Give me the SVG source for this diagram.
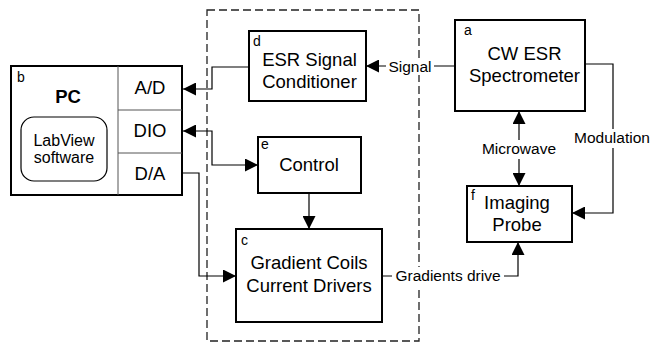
<svg xmlns="http://www.w3.org/2000/svg" width="652" height="343" viewBox="0 0 652 343">
<defs>
<marker id="ah" markerUnits="userSpaceOnUse" markerWidth="14" markerHeight="13" refX="13" refY="6.5" orient="auto-start-reverse" viewBox="0 0 14 13">
<path d="M0,0 L13,6.5 L0,13 z" fill="#000"/>
</marker>
<style>
text{font-family:"Liberation Sans",Arial,sans-serif;fill:#000}
.big{font-size:18.5px;text-anchor:middle}
.lbl{font-size:15.5px;text-anchor:middle}
.tag{font-size:14px}
.box{fill:#fff;stroke:#000;stroke-width:2}
.thin{fill:none;stroke:#555;stroke-width:1}
.con{fill:none;stroke:#000;stroke-width:1.2}
.bg{fill:#fff}
</style>
</defs>
<rect x="207" y="10" width="212" height="331" fill="none" stroke="#222" stroke-width="1.3" stroke-dasharray="8,4"/>
<g id="connectors">
<path class="con" d="M249,67 H212 V89 H183" marker-end="url(#ah)"/>
<path class="con" d="M183,131 H212 V165 H258" marker-start="url(#ah)" marker-end="url(#ah)"/>
<path class="con" d="M182,173 H199 V276 H236" marker-end="url(#ah)"/>
<path class="con" d="M309,193 V229" marker-end="url(#ah)"/>
<path class="con" d="M455,66 H366" marker-end="url(#ah)"/>
<path class="con" d="M519,111 V186" marker-start="url(#ah)" marker-end="url(#ah)"/>
<path class="con" d="M585,64 H613 V213 H572" marker-end="url(#ah)"/>
<path class="con" d="M382,276 H518 V242" marker-end="url(#ah)"/>
<rect class="bg" x="386" y="58" width="48" height="17"/>
<text class="lbl" x="410" y="72">Signal</text>
<rect class="bg" x="480" y="140" width="79" height="19"/>
<text class="lbl" x="519" y="154">Microwave</text>
<rect class="bg" x="573" y="129" width="79" height="19"/>
<text class="lbl" x="612" y="143">Modulation</text>
<rect class="bg" x="392" y="267" width="112" height="19"/>
<text class="lbl" x="448" y="281">Gradients drive</text>
</g>
<g id="b">
<rect class="box" x="11" y="66" width="171" height="129"/>
<line class="thin" x1="118" y1="66" x2="118" y2="195"/>
<line class="thin" x1="118" y1="110" x2="182" y2="110"/>
<line class="thin" x1="118" y1="153" x2="182" y2="153"/>
<text class="tag" x="17" y="82">b</text>
<text class="big" x="68" y="103" font-weight="bold">PC</text>
<rect x="21" y="117" width="86" height="64" rx="13" fill="none" stroke="#000" stroke-width="1.2"/>
<text class="lbl" x="64" y="146" font-size="16px" style="font-size:16px">LabView</text>
<text class="lbl" x="64" y="163" style="font-size:16px">software</text>
<text class="big" x="150" y="94">A/D</text>
<text class="big" x="150" y="137">DIO</text>
<text class="big" x="150" y="180">D/A</text>
</g>
<g id="d">
<rect class="box" x="249" y="31" width="117" height="70"/>
<text class="tag" x="253" y="46">d</text>
<text class="big" x="309.5" y="66">ESR Signal</text>
<text class="big" x="309.5" y="88">Conditioner</text>
</g>
<g id="e">
<rect class="box" x="258" y="137" width="103" height="56"/>
<text class="tag" x="261" y="149">e</text>
<text class="big" x="309" y="171">Control</text>
</g>
<g id="c">
<rect class="box" x="236" y="229" width="146" height="93"/>
<text class="tag" x="241" y="245">c</text>
<text class="big" x="309" y="269">Gradient Coils</text>
<text class="big" x="309" y="292">Current Drivers</text>
</g>
<g id="a">
<rect class="box" x="455" y="20" width="130" height="91"/>
<text class="tag" x="464" y="35">a</text>
<text class="big" x="524.5" y="60">CW ESR</text>
<text class="big" x="524.5" y="82">Spectrometer</text>
</g>
<g id="f">
<rect class="box" x="467" y="186" width="105" height="56"/>
<text class="tag" x="471" y="200">f</text>
<text class="big" x="517" y="209">Imaging</text>
<text class="big" x="517" y="231">Probe</text>
</g>
</svg>
